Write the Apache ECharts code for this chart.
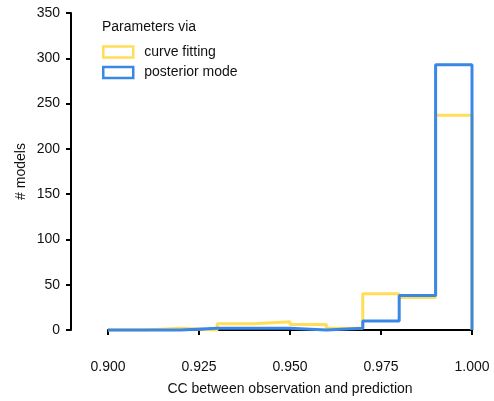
<!DOCTYPE html>
<html>
<head>
<meta charset="utf-8">
<script src="https://cdn.jsdelivr.net/npm/echarts@6/dist/echarts.min.js"></script>
<style>html,body{margin:0;padding:0;background:#fff;}#c{width:494px;height:401px;}</style>
</head>
<body>
<div id="c"></div>
<script>
// Histogram bin edges (CC between observation and prediction)
var binEdges = [0.90, 0.91, 0.92, 0.93, 0.94, 0.95, 0.96, 0.97, 0.98, 0.99, 1.00];
// Counts per bin (# models)
var curveFitting  = [0, 2, 0, 7, 9, 6, 2, 40, 36, 237];
var posteriorMode = [0, 0, 2, 2, 2, 0, 2, 10, 38, 293];
var seriesNames = ['curve fitting', 'posterior mode'];
var xTickLabels = ['0.900', '0.925', '0.950', '0.975', '1.000'];
var yTickLabels = ['0', '50', '100', '150', '200', '250', '300', '350'];

var FONT = 'Liberation Sans, Arial, sans-serif';
var YELLOW = '#FFDE59';
var BLUE = '#3A87E6';

function stepPoints(counts) {
  var pts = [];
  for (var i = 0; i < counts.length; i++) {
    pts.push([binEdges[i], counts[i]]);
    pts.push([binEdges[i + 1], counts[i]]);
  }
  pts.push([binEdges[binEdges.length - 1], 0]);
  return pts;
}

var chart = echarts.init(document.getElementById('c'), null, {renderer: 'canvas'});
chart.setOption({
  animation: false,
  backgroundColor: '#fff',
  title: {
    text: 'Parameters via',
    left: 102, top: 20, padding: 0,
    textStyle: {fontFamily: FONT, fontSize: 14, fontWeight: 'normal', color: '#111'}
  },
  legend: {
    orient: 'vertical',
    left: 102, top: 45, padding: 0,
    itemWidth: 30, itemHeight: 11, itemGap: 6.5,
    textStyle: {fontFamily: FONT, fontSize: 14, color: '#111', padding: [0, 0, 0, 6]},
    data: [
      {name: seriesNames[0], icon: 'rect', itemStyle: {color: '#fff', borderColor: YELLOW, borderWidth: 2.5}},
      {name: seriesNames[1], icon: 'rect', itemStyle: {color: '#fff', borderColor: BLUE, borderWidth: 2.5}}
    ]
  },
  grid: {left: 108, right: 22, top: 13, bottom: 71, containLabel: false},
  xAxis: {
    type: 'value', min: 0.9, max: 1.0, interval: 0.025,
    offset: 18,
    name: 'CC between observation and prediction',
    nameLocation: 'middle', nameGap: 34, nameMoveOverlap: false,
    nameTextStyle: {fontFamily: FONT, fontSize: 14, color: '#111'},
    axisLine: {lineStyle: {color: '#000', width: 2}},
    axisTick: {show: true, length: 5, lineStyle: {color: '#000', width: 2}},
    axisLabel: {
      fontFamily: FONT, fontSize: 14, color: '#111', margin: 12,
      formatter: function (v) { var i = Math.round((v - 0.9) / 0.025); return xTickLabels[i]; }
    },
    splitLine: {show: false}
  },
  yAxis: {
    type: 'value', min: 0, max: 350, interval: 50,
    offset: 37,
    name: '# models',
    nameLocation: 'middle', nameGap: 43, nameMoveOverlap: false,
    nameTextStyle: {fontFamily: FONT, fontSize: 14, color: '#111'},
    axisLine: {show: true, lineStyle: {color: '#000', width: 2}},
    axisTick: {show: true, length: 5, lineStyle: {color: '#000', width: 2}},
    axisLabel: {
      fontFamily: FONT, fontSize: 14, color: '#111', margin: 11,
      formatter: function (v) { return yTickLabels[Math.round(v / 50)]; }
    },
    splitLine: {show: false}
  },
  series: [
    {
      name: seriesNames[0], type: 'line', data: stepPoints(curveFitting),
      showSymbol: false, symbol: 'none', clip: false,
      lineStyle: {color: YELLOW, width: 3}, itemStyle: {color: YELLOW}
    },
    {
      name: seriesNames[1], type: 'line', data: stepPoints(posteriorMode),
      showSymbol: false, symbol: 'none', clip: false,
      lineStyle: {color: BLUE, width: 3}, itemStyle: {color: BLUE}
    }
  ]
});
</script>
</body>
</html>
